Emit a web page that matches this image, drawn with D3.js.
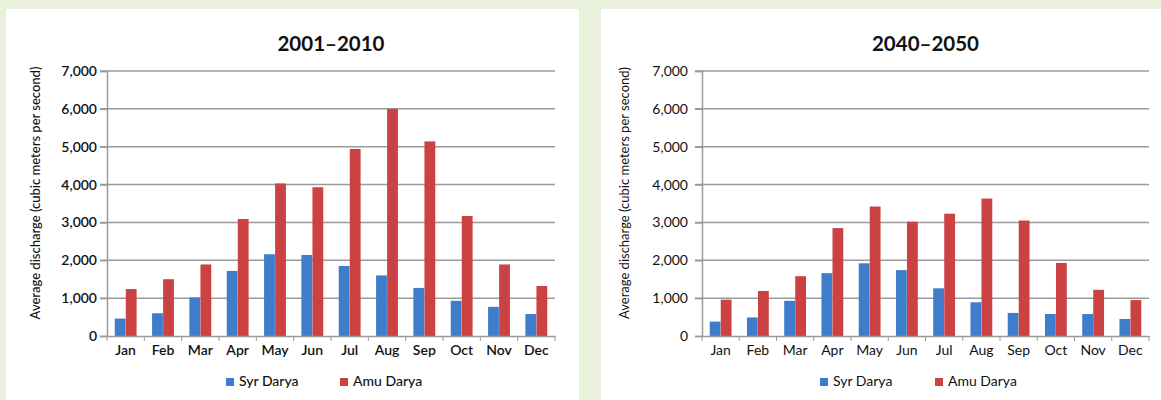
<!DOCTYPE html>
<html>
<head>
<meta charset="utf-8">
<script src="https://cdn.jsdelivr.net/npm/d3@7"></script>
<style>
  html, body { margin: 0; padding: 0; background: #e9f1dc; }
  svg { display: block; }
</style>
</head>
<body>
<svg id="chart" width="1161" height="400"></svg>
<script>
const months = ["Jan","Feb","Mar","Apr","May","Jun","Jul","Aug","Sep","Oct","Nov","Dec"];
const seriesNames = ["Syr Darya", "Amu Darya"];
const syr2001 = [460, 600, 1020, 1720, 2160, 2140, 1850, 1600, 1270, 930, 770, 580];
const amu2001 = [1240, 1500, 1890, 3090, 4030, 3930, 4940, 6000, 5140, 3170, 1890, 1320];
const syr2040 = [380, 490, 930, 1660, 1920, 1740, 1260, 890, 610, 580, 580, 450];
const amu2040 = [960, 1190, 1580, 2850, 3420, 3020, 3230, 3630, 3050, 1930, 1220, 950];
const yTicks = [0, 1000, 2000, 3000, 4000, 5000, 6000, 7000];
const titles = ["2001\u20132010", "2040\u20132050"];
const yTitle = "Average discharge (cubic meters per second)";
const colors = ["#3f7ccc", "#cc4242"];

const svg = d3.select("#chart");
const font = "Lato, 'Open Sans', sans-serif";

const panels = [
  { x0: 6, x1: 579, left: 107, right: 555, title: titles[0], syr: syr2001, amu: amu2001, weight: 600,
    legendX: 226, legendGap: 114, yTitleX: 35, labelX: -10 },
  { x0: 601, x1: 1161, left: 702, right: 1149, title: titles[1], syr: syr2040, amu: amu2040, weight: 400,
    legendX: 820, legendGap: 115, yTitleX: 624, labelX: -14 }
];

panels.forEach(p => {
  const g = svg.append("g");
  g.append("rect").attr("x", p.x0).attr("y", 9).attr("width", p.x1 - p.x0).attr("height", 400 - 9)
    .attr("fill", "#ffffff");

  const top = 71, bottom = 336;
  const x = d3.scaleBand().domain(months).range([p.left, p.right]).paddingInner(0).paddingOuter(0);
  const y = d3.scaleLinear().domain([0, 7000]).range([bottom, top]);
  const inner = d3.scaleBand().domain(seriesNames).range([0, x.bandwidth()]).paddingInner(0.02).paddingOuter(0.7);

  // gridlines
  g.append("g").selectAll("line").data(yTicks.filter(d => d > 0)).join("line")
    .attr("x1", p.left - 7).attr("x2", p.right)
    .attr("y1", d => y(d)).attr("y2", d => y(d))
    .attr("stroke", "#9a9a9a").attr("stroke-width", 1.5);

  // bars
  const data = months.map((m, i) => ({ m, vals: [p.syr[i], p.amu[i]] }));
  const grp = g.append("g").selectAll("g").data(data).join("g")
    .attr("transform", d => `translate(${x(d.m)},0)`);
  grp.selectAll("rect").data(d => d.vals.map((v, k) => ({ v, k }))).join("rect")
    .attr("x", d => inner(seriesNames[d.k]))
    .attr("width", inner.bandwidth())
    .attr("y", d => y(d.v))
    .attr("height", d => bottom - y(d.v))
    .attr("fill", d => colors[d.k]);

  // y axis
  const yAxis = d3.axisLeft(y).tickValues(yTicks).tickSize(7).tickFormat(d3.format(","));
  const ya = g.append("g").attr("transform", `translate(${p.left},0)`).call(yAxis);
  ya.select(".domain").attr("stroke", "#9a9a9a").attr("stroke-width", 1.5);
  ya.selectAll(".tick line").attr("stroke", "#9a9a9a").attr("stroke-width", 1.5);
  ya.selectAll("text").attr("font-family", font).attr("font-size", 14).attr("font-weight", p.weight)
    .attr("fill", "#111").attr("x", p.labelX);

  // x axis
  const xAxis = d3.axisBottom(x).tickSize(0).tickPadding(9);
  const xa = g.append("g").attr("transform", `translate(0,${bottom})`).call(xAxis);
  xa.select(".domain").attr("stroke", "#9a9a9a").attr("stroke-width", 1.5);
  xa.selectAll("text").attr("font-family", font).attr("font-size", 14).attr("font-weight", p.weight)
    .attr("fill", "#111");
  // minor ticks between categories
  g.append("g").selectAll("line").data(months).join("line")
    .attr("x1", d => x(d)).attr("x2", d => x(d))
    .attr("y1", bottom).attr("y2", bottom + 5)
    .attr("stroke", "#9a9a9a").attr("stroke-width", 1);
  g.append("line").attr("x1", p.right).attr("x2", p.right).attr("y1", bottom).attr("y2", bottom + 5)
    .attr("stroke", "#9a9a9a").attr("stroke-width", 1);

  // title
  g.append("text").attr("x", (p.left + p.right) / 2).attr("y", 51)
    .attr("text-anchor", "middle").attr("font-family", font).attr("font-weight", 700)
    .attr("font-size", 20.5).attr("fill", "#111").text(p.title);

  // y axis title
  g.append("text").attr("transform", `translate(${p.yTitleX + 5},193) rotate(-90)`)
    .attr("text-anchor", "middle").attr("font-family", font).attr("font-size", 13)
    .attr("font-weight", p.weight === 600 ? 500 : 400)
    .attr("fill", "#111").text(yTitle);

  // legend
  const lg = g.append("g").attr("transform", `translate(${p.legendX},386)`);
  const items = lg.selectAll("g").data(seriesNames).join("g")
    .attr("transform", (d, i) => `translate(${i * p.legendGap},0)`);
  items.append("rect").attr("x", 0).attr("y", -8).attr("width", 8).attr("height", 8)
    .attr("fill", (d, i) => colors[i]);
  items.append("text").attr("x", 13).attr("y", 0).attr("font-family", font)
    .attr("font-size", 14).attr("font-weight", p.weight === 600 ? 500 : 400)
    .attr("fill", "#111").text(d => d);
});
</script>
</body>
</html>
